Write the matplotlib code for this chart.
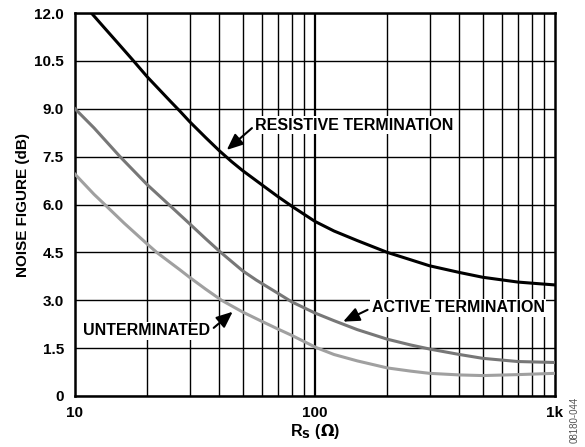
import matplotlib
matplotlib.use("Agg")
import matplotlib.pyplot as plt

plt.rcParams["font.family"] = ["Liberation Sans", "DejaVu Sans"]
plt.rcParams["font.weight"] = "bold"

# values
rs_resistive = [11.7, 13.1, 15, 17.3, 20, 25, 27.4, 30, 35, 40, 45, 50, 60, 70, 81,
                100, 120, 150, 200, 250, 300, 400, 500, 700, 850, 1000]
nf_resistive = [12.0, 11.58, 11.08, 10.55, 10.0, 9.23, 8.92, 8.6, 8.1, 7.68, 7.34, 7.06, 6.62, 6.25, 5.92,
                5.47, 5.17, 4.87, 4.5, 4.27, 4.08, 3.87, 3.72, 3.57, 3.52, 3.48]

rs_active = [10, 12, 15.4, 20, 25, 30, 35, 40.2, 50, 57, 70, 80,
             100, 120, 150, 200, 250, 301, 400, 500, 700, 1000]
nf_active = [9.0, 8.4, 7.5, 6.62, 5.95, 5.4, 4.93, 4.52, 3.92, 3.63, 3.22, 2.95,
             2.6, 2.36, 2.08, 1.78, 1.6, 1.47, 1.3, 1.18, 1.08, 1.05]

rs_unterm = [10, 12, 13.3, 16, 20, 21.9, 27.4, 30, 35, 40.8, 50, 60, 70, 80,
             101, 120, 150, 200, 250, 300, 400, 500, 700, 1000]
nf_unterm = [6.95, 6.32, 6.0, 5.42, 4.76, 4.5, 3.95, 3.72, 3.35, 3.0, 2.63, 2.34, 2.1, 1.9,
             1.52, 1.3, 1.1, 0.88, 0.78, 0.71, 0.66, 0.64, 0.67, 0.71]

y_ticks = [0, 1.5, 3.0, 4.5, 6.0, 7.5, 9.0, 10.5, 12.0]
y_tick_labels = ["0", "1.5", "3.0", "4.5", "6.0", "7.5", "9.0", "10.5", "12.0"]
x_ticks = [10, 100, 1000]
x_tick_labels = ["10", "100", "1k"]

fig = plt.figure(figsize=(5.85, 4.47), dpi=100)
ax = fig.add_axes([0.1282, 0.1141, 0.8205, 0.8568])

ax.set_xscale("log")
ax.set_xlim(10, 1000)
ax.set_ylim(0, 12)

# grid: horizontal on ticks, vertical on every decade step
for y in y_ticks:
    ax.axhline(y, color="black", lw=1.0, zorder=1)
for dec in [10, 100]:
    for m in range(2, 10):
        ax.axvline(dec * m, color="black", lw=1.0, zorder=1)
ax.axvline(100, color="black", lw=1.6, zorder=1)

ax.plot(rs_resistive, nf_resistive, color="black", lw=2.2, zorder=3)
ax.plot(rs_active, nf_active, color="#777777", lw=2.2, zorder=3)
ax.plot(rs_unterm, nf_unterm, color="#a0a0a0", lw=2.2, zorder=3)

for s in ax.spines.values():
    s.set_linewidth(1.8)

ax.set_yticks(y_ticks)
ax.set_yticklabels(y_tick_labels)
ax.set_xticks(x_ticks)
ax.set_xticklabels(x_tick_labels)
ax.xaxis.set_minor_locator(matplotlib.ticker.NullLocator())
ax.tick_params(axis="y", length=0, labelsize=11, pad=8)
ax.tick_params(axis="x", length=0, labelsize=11, pad=7)
for lbl in ax.get_xticklabels() + ax.get_yticklabels():
    lbl.set_fontweight("bold")

ax.set_ylabel("NOISE FIGURE (dB)", fontsize=11, fontweight="bold", labelpad=3)
ax.set_xlabel(r"R$_\mathbf{S}$ ($\mathbf{\Omega}$)", fontsize=11.5, fontweight="bold", labelpad=2)

box = dict(facecolor="white", edgecolor="none", pad=1)


def arrow(rel):
    return dict(arrowstyle="-|>,head_length=0.7,head_width=0.3", color="black", lw=1.5,
                mutation_scale=14, shrinkA=2, shrinkB=0, relpos=rel)


ax.annotate("RESISTIVE TERMINATION", xy=(42.9, 7.71), xytext=(56.5, 8.49),
            fontsize=11.5, fontweight="bold", va="center", ha="left",
            bbox=box, arrowprops=arrow((0, 0.5)), zorder=5)
ax.annotate("ACTIVE TERMINATION", xy=(131, 2.33), xytext=(172, 2.76),
            fontsize=11.5, fontweight="bold", va="center", ha="left",
            bbox=box, arrowprops=arrow((0, 0.5)), zorder=5)
ax.annotate("UNTERMINATED", xy=(45.4, 2.64), xytext=(10.8, 2.04),
            fontsize=11.5, fontweight="bold", va="center", ha="left",
            bbox=box, arrowprops=arrow((1, 0.5)), zorder=5)

fig.text(0.983, 0.06, "08180-044", rotation=90, fontsize=7, color="#555555",
         fontweight="normal", ha="center", va="center")

fig.savefig("out.png", dpi=100)
